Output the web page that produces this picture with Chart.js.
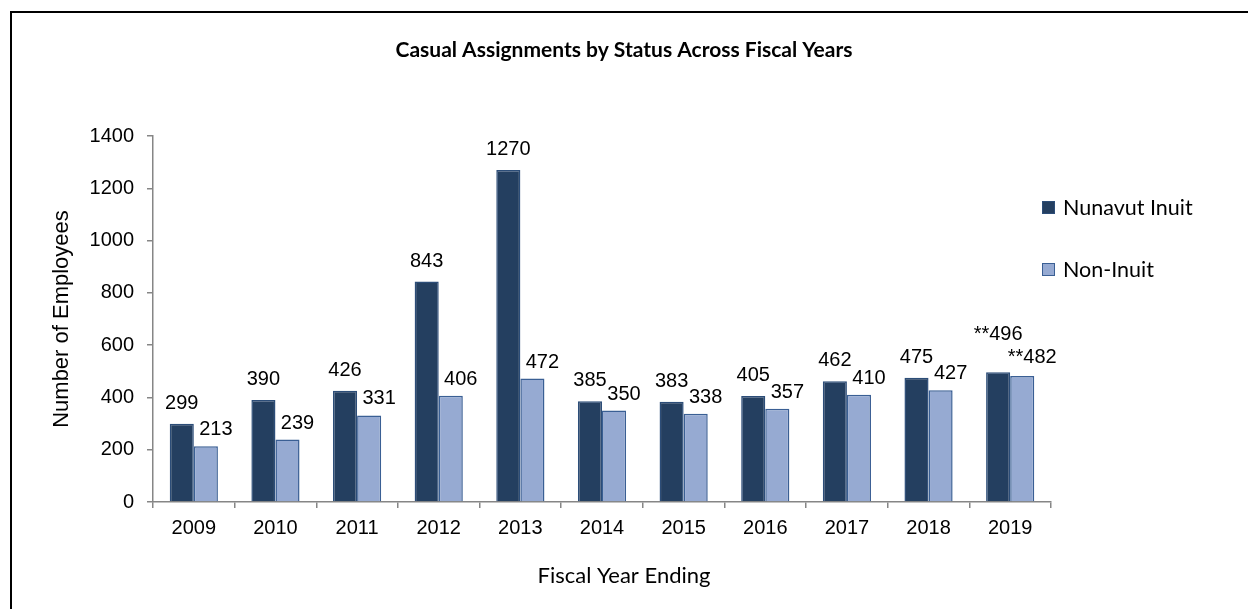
<!DOCTYPE html>
<html>
<head>
<meta charset="utf-8">
<title>Casual Assignments by Status Across Fiscal Years</title>
<script src="https://cdn.jsdelivr.net/npm/chart.js@4/dist/chart.umd.min.js"></script>
<style>
  html, body { margin: 0; padding: 0; background: #fff; }
  #wrap { position: relative; width: 1248px; height: 609px; overflow: hidden; }
  #frame {
    position: absolute; left: 10px; top: 11px; width: 1400px; height: 800px;
    border-top: 2px solid #000; border-left: 2px solid #000; pointer-events: none;
  }
  .swatch { position: absolute; width: 11px; height: 11px; border: 1.5px solid #3a5f94; }
  .legtext { position: absolute; font-family: Lato, sans-serif; font-size: 21.5px; line-height: 20px; color: #000; white-space: nowrap; }
</style>
</head>
<body>
<div id="wrap">
  <canvas id="myChart" width="1248" height="609"></canvas>
  <div id="frame"></div>
  <div class="swatch" style="left:1042px; top:201px; background:#243f60; border-color:#2c4d78;"></div>
  <div class="legtext" style="left:1063px; top:197px;">Nunavut Inuit</div>
  <div class="swatch" style="left:1042px; top:263px; background:#96aad2;"></div>
  <div class="legtext" style="left:1063px; top:259px;">Non-Inuit</div>
</div>
<script>
document.addEventListener('DOMContentLoaded', () => {
    // fiscal years along the x axis
    var years = ['2009', '2010', '2011', '2012', '2013', '2014', '2015', '2016', '2017', '2018', '2019']

    // number of employees per status
    var nunavutInuit = [299, 390, 426, 843, 1270, 385, 383, 405, 462, 475, 496]
    var nonInuit = [213, 239, 331, 406, 472, 350, 338, 357, 410, 427, 482]

    // years whose labels carry the "**" note
    var flaggedYears = ['2019']

    var yTicks = [0, 200, 400, 600, 800, 1000, 1200, 1400]

    var axisGrey = '#868686'
    var arial = '"Liberation Sans", Arial, sans-serif'

    // draws the value above every bar
    var valueLabels = {
        id: 'valueLabels',
        afterDatasetsDraw(chart, args, opts) {
            let ctx = chart.ctx
            ctx.save()
            ctx.font = '20px ' + arial
            ctx.fillStyle = '#000'
            ctx.textAlign = 'center'
            ctx.textBaseline = 'alphabetic'
            chart.data.datasets.forEach((ds, i) => {
                let meta = chart.getDatasetMeta(i)
                let shift = opts.shift[i]
                meta.data.forEach((bar, j) => {
                    let txt = String(ds.data[j])
                    let gap = shift.gap
                    if (flaggedYears.includes(chart.data.labels[j])) {
                        txt = '**' + txt
                        gap = shift.flaggedGap
                    }
                    ctx.fillText(txt, bar.x + shift.x, bar.y - gap)
                })
            })
            ctx.restore()
        }
    }

    let ctx = document.getElementById('myChart').getContext('2d')

    var chart = new Chart(ctx, {
        type: 'bar',
        data: {
            labels: years,
            datasets: [{
                label: 'Nunavut Inuit',
                backgroundColor: '#243f60',
                borderColor: '#2c4d78',
                borderWidth: 1.5,
                data: nunavutInuit
            },
            {
                label: 'Non-Inuit',
                backgroundColor: '#96aad2',
                borderColor: '#3a5f94',
                borderWidth: 1.5,
                data: nonInuit
            }]
        },
        plugins: [valueLabels],
        options: {
            responsive: false,
            animation: false,
            layout: { padding: 0 },
            datasets: {
                bar: { categoryPercentage: 0.59, barPercentage: 1.0 }
            },
            plugins: {
                legend: { display: false },
                tooltip: { enabled: false },
                title: {
                    display: true,
                    text: 'Casual Assignments by Status Across Fiscal Years',
                    color: '#000',
                    font: { family: 'Lato', size: 21, weight: 'bold' },
                    padding: { top: 38, bottom: 72.8 }
                },
                subtitle: {
                    display: true,
                    position: 'bottom',
                    text: 'Fiscal Year Ending',
                    color: '#000',
                    font: { family: 'Lato', size: 22, weight: 'normal' },
                    padding: { top: 20.6, bottom: 20 }
                },
                valueLabels: {
                    shift: [{ x: 0, gap: 15, flaggedGap: 32 }, { x: 10, gap: 11, flaggedGap: 13 }]
                }
            },
            scales: {
                x: {
                    afterFit(scale) { scale.height = 40 },
                    grid: {
                        display: true, drawOnChartArea: false, drawTicks: true,
                        tickLength: 6, color: axisGrey, lineWidth: 1.5, offset: true
                    },
                    border: { display: true, color: axisGrey, width: 1.5 },
                    ticks: {
                        color: '#000', padding: 8,
                        font: { family: arial, size: 20 }
                    }
                },
                y: {
                    min: 0,
                    max: 1400,
                    afterFit(scale) { scale.width = 153 },
                    afterBuildTicks(scale) { scale.ticks = yTicks.map(v => ({ value: v })) },
                    grid: {
                        display: true, drawOnChartArea: false, drawTicks: true,
                        tickLength: 6, color: axisGrey, lineWidth: 1.5
                    },
                    border: { display: true, color: axisGrey, width: 1.5 },
                    ticks: {
                        color: '#000', padding: 13,
                        font: { family: arial, size: 20 },
                        callback: v => String(v)
                    },
                    title: {
                        display: true,
                        text: 'Number of Employees',
                        color: '#000',
                        font: { family: arial, size: 22 },
                        padding: { top: 49, bottom: 0 }
                    }
                },
                // empty right-hand strip that keeps room for the legend
                spacer: {
                    type: 'linear',
                    position: 'right',
                    afterFit(scale) { scale.width = 197 },
                    grid: { display: false, drawTicks: false },
                    border: { display: false },
                    ticks: { display: false }
                }
            }
        }
    })
})
</script>
</body>
</html>
